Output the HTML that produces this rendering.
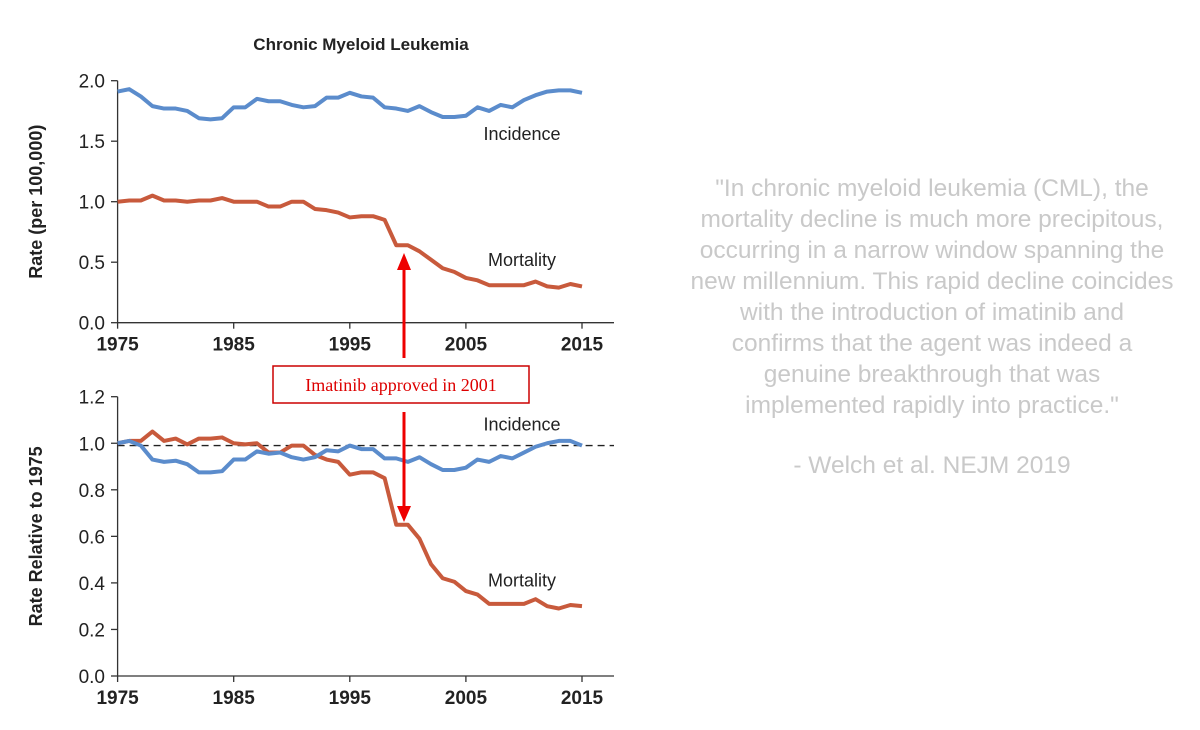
<!DOCTYPE html>
<html><head><meta charset="utf-8"><style>
body{margin:0;background:#fff;width:1200px;height:730px;overflow:hidden}
svg{display:block}
</style></head><body>
<svg id="c" width="1200" height="730" xmlns="http://www.w3.org/2000/svg" font-family="Liberation Sans, sans-serif">
<text x="361" y="50" text-anchor="middle" font-size="17" font-weight="bold" fill="#222">Chronic Myeloid Leukemia</text>
<g id="top"></g>
<g id="bot"></g>
<g>
<line x1="404" y1="358" x2="404" y2="268" stroke="#e00" stroke-width="3"/>
<polygon points="397,270 411,270 404,253" fill="#e00"/>
<line x1="404" y1="412" x2="404" y2="508" stroke="#e00" stroke-width="3"/>
<polygon points="397,506 411,506 404,522" fill="#e00"/>
<rect x="273" y="366" width="256" height="37" fill="#fff" stroke="#c00" stroke-width="1.5"/>
<text x="401" y="391" text-anchor="middle" font-family="Liberation Serif, serif" font-size="18" fill="#d00">Imatinib approved in 2001</text>
</g>
<g font-size="24.5" fill="#c9c9c9" text-anchor="middle">
<text x="932" y="196">"In chronic myeloid leukemia (CML), the</text>
<text x="932" y="227">mortality decline is much more precipitous,</text>
<text x="932" y="258">occurring in a narrow window spanning the</text>
<text x="932" y="289">new millennium. This rapid decline coincides</text>
<text x="932" y="320">with the introduction of imatinib and</text>
<text x="932" y="351">confirms that the agent was indeed a</text>
<text x="932" y="382">genuine breakthrough that was</text>
<text x="932" y="413">implemented rapidly into practice."</text>
<text x="932" y="473">- Welch et al. NEJM 2019</text>
</g>
</svg>
<script>
const years=[];for(let y=1975;y<=2015;y++)years.push(y);
const xTicks=[1975,1985,1995,2005,2015];
const topTicks=[0,0.5,1.0,1.5,2.0];
const botTicks=[0,0.2,0.4,0.6,0.8,1.0,1.2];
const topIncidence=[1.91,1.93,1.87,1.79,1.77,1.77,1.75,1.69,1.68,1.69,1.78,1.78,1.85,1.83,1.83,1.80,1.78,1.79,1.86,1.86,1.90,1.87,1.86,1.78,1.77,1.75,1.79,1.74,1.70,1.70,1.71,1.78,1.75,1.80,1.78,1.84,1.88,1.91,1.92,1.92,1.90];
const topMortality=[1.00,1.01,1.01,1.05,1.01,1.01,1.00,1.01,1.01,1.03,1.00,1.00,1.00,0.96,0.96,1.00,1.00,0.94,0.93,0.91,0.87,0.88,0.88,0.85,0.64,0.64,0.59,0.52,0.45,0.42,0.37,0.35,0.31,0.31,0.31,0.31,0.34,0.30,0.29,0.32,0.30];
const relIncidence=[1.0,1.01,0.99,0.93,0.92,0.925,0.91,0.875,0.875,0.88,0.93,0.93,0.965,0.955,0.96,0.94,0.93,0.94,0.97,0.965,0.99,0.975,0.975,0.935,0.935,0.92,0.94,0.91,0.885,0.885,0.895,0.93,0.92,0.945,0.935,0.96,0.985,1.0,1.01,1.01,0.99];
const relMortality=[1.0,1.01,1.01,1.05,1.01,1.02,0.995,1.02,1.02,1.025,1.0,0.995,1.0,0.96,0.96,0.99,0.99,0.95,0.93,0.92,0.865,0.875,0.875,0.85,0.65,0.65,0.59,0.48,0.42,0.405,0.365,0.35,0.31,0.31,0.31,0.31,0.33,0.30,0.29,0.305,0.30];
const NS='http://www.w3.org/2000/svg';
function mk(p,t,a){const e=document.createElementNS(NS,t);for(const k in a)e.setAttribute(k,a[k]);p.appendChild(e);return e;}
const xS=y=>117.6+(y-1975)*(582-117.6)/40;
function panel(g,y0,y1,vmax,ticks,fmt,inc,mort,ytitle,incLab,morLab,dashed){
  const yS=v=>y0-(v/vmax)*(y0-y1);
  const ax=mk(g,'path',{d:`M117.6 ${yS(vmax)} V${y0} H614`,stroke:'#333','stroke-width':1.3,fill:'none'});
  
  
  ticks.forEach(t=>{mk(g,'line',{x1:111,x2:117.6,y1:yS(t),y2:yS(t),stroke:'#333','stroke-width':1.3});
    const tx=mk(g,'text',{x:105,y:yS(t)+7,'text-anchor':'end','font-size':19,fill:'#222'});tx.textContent=fmt(t);
    
    });
  xTicks.forEach(t=>{mk(g,'line',{x1:xS(t),x2:xS(t),y1:y0,y2:y0+6,stroke:'#333','stroke-width':1.3});
    const tx=mk(g,'text',{x:xS(t),y:y0+28,'text-anchor':'middle','font-size':19,'font-weight':'bold',fill:'#222'});tx.textContent=t;
    
    });
  if(dashed){const d=mk(g,'line',{x1:117.6,x2:614,y1:yS(0.99),y2:yS(0.99),stroke:'#222','stroke-width':1.3,'stroke-dasharray':'7,5'});
    
    }
  const line=(arr,col,name)=>{const l=mk(g,'polyline',{points:arr.map((v,i)=>xS(years[i])+','+yS(v)).join(' '),fill:'none',stroke:col,'stroke-width':4,'stroke-linejoin':'round'});
    
    };
  line(mort,'#c85a3c','mortality-line');
  line(inc,'#5b8ccc','incidence-line');
  const t=mk(g,'text',{transform:`translate(42 ${(y0+yS(vmax))/2}) rotate(-90)`,'text-anchor':'middle','font-size':18,'font-weight':'bold',fill:'#222'});t.textContent=ytitle;
  
  
  const a=mk(g,'text',{x:522,y:yS(incLab)+6,'text-anchor':'middle','font-size':18,fill:'#222'});a.textContent='Incidence';
  
  
  const b=mk(g,'text',{x:522,y:yS(morLab)+6,'text-anchor':'middle','font-size':18,fill:'#222'});b.textContent='Mortality';
  
  
}
panel(document.getElementById('top'),322.7,80.7,2.0,topTicks,v=>v.toFixed(1),topIncidence,topMortality,'Rate (per 100,000)',1.56,0.52,false);
panel(document.getElementById('bot'),676,396.7,1.2,botTicks,v=>v.toFixed(1),relIncidence,relMortality,'Rate Relative to 1975',1.08,0.41,true);
</script>
</body></html>
